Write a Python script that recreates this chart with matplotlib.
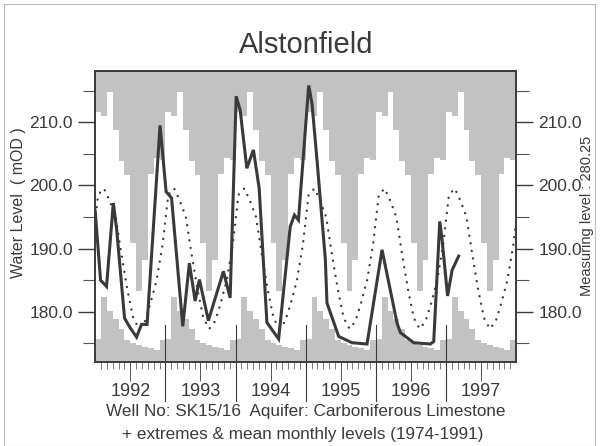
import matplotlib
matplotlib.use("Agg")
import matplotlib.pyplot as plt
import numpy as np

plt.rcParams['font.family'] = ['Liberation Sans', 'DejaVu Sans']

# monthly extremes and means 1974-1991 (Jan..Dec), mOD
month_max = [211.6, 211.0, 214.8, 208.8, 203.8, 201.6, 190.9, 183.3, 188.2, 201.8, 204.3, 204.0]
month_min = [175.7, 182.3, 180.2, 178.8, 177.2, 175.6, 175.0, 174.7, 174.4, 174.2, 174.0, 175.6]
month_mean = [198.5, 199.5, 197.5, 195.0, 189.0, 183.5, 179.0, 177.3, 178.5, 181.5, 185.0, 190.5]

years = [1992, 1993, 1994, 1995, 1996, 1997]

# observed levels (decimal year, mOD)
obs_t = [1992.00, 1992.076, 1992.161, 1992.258, 1992.306, 1992.418, 1992.496, 1992.589,
         1992.66, 1992.739, 1992.924, 1992.953, 1993.01, 1993.088, 1993.248, 1993.342,
         1993.424, 1993.485, 1993.613, 1993.827, 1993.923, 1994.009, 1994.066, 1994.161,
         1994.255, 1994.337, 1994.447, 1994.614, 1994.78, 1994.84, 1994.897, 1995.043,
         1995.09, 1995.161, 1995.28, 1995.303, 1995.47, 1995.66, 1995.874, 1996.088,
         1996.302, 1996.35, 1996.54, 1996.777, 1996.825, 1996.911, 1996.944, 1997.022,
         1997.087, 1997.18]
obs_v = [195.9, 185.0, 184.0, 197.2, 193.0, 179.0, 177.5, 176.0,
         178.0, 178.0, 209.5, 206.0, 199.0, 198.0, 177.7, 187.7,
         181.7, 185.1, 178.6, 186.4, 182.2, 214.1, 211.9, 202.7,
         205.6, 199.5, 178.3, 175.7, 193.5, 195.3, 194.5, 215.8,
         212.9, 204.0, 188.3, 181.4, 176.1, 175.1, 174.9, 189.8,
         178.2, 176.7, 175.1, 174.9, 175.3, 194.3, 191.4, 182.5,
         186.6, 188.8]

ylo, yhi = 172.1, 218.1
grey = '#c2c2c2'
ink = '#3a3a3a'

fig = plt.figure(figsize=(6.0, 4.46), dpi=100)
ax = fig.add_axes([0.1587, 0.189, 0.7016, 0.652])

# extremes envelope as monthly steps
edges = []
tops = []
bots = []
means_t = []
means_v = []
for y in years:
    for m in range(12):
        edges.append(y + m / 12)
        tops.append(month_max[m])
        bots.append(month_min[m])
        means_t.append(y + (m + 0.5) / 12)
        means_v.append(month_mean[m])
edges.append(years[-1] + 1)
tops.append(tops[-1])
bots.append(bots[-1])

ax.fill_between(edges, tops, yhi, step='post', color=grey, lw=0)
ax.fill_between(edges, ylo, bots, step='post', color=grey, lw=0)

# mean monthly levels, wrapped across year ends
ax.plot([years[0] - 0.5 / 12] + means_t + [years[-1] + 1 + 0.5 / 12],
        [month_mean[-1]] + means_v + [month_mean[0]],
        color=ink, lw=1.7, linestyle=(0, (0.05, 3.2)), dash_capstyle='round')

ax.plot(obs_t, obs_v, color=ink, lw=2.2, solid_joinstyle='miter')

ax.set_xlim(years[0], years[-1] + 1)
ax.set_ylim(ylo, yhi)

# y ticks both sides
ax.set_yticks([180, 190, 200, 210])
ax.set_yticklabels(['180.0', '190.0', '200.0', '210.0'])
ax.set_yticks([175, 185, 195, 205, 215], minor=True)
ax.tick_params(axis='y', which='major', direction='out', length=12, width=1.0,
               labelsize=12.5, colors=ink, left=True, right=True, labelright=True, pad=4)
ax.tick_params(axis='y', which='minor', direction='out', length=9, width=0.8,
               left=True, right=True, colors='#555555')

# x: month ticks and year labels at mid year
ax.set_xticks([y + 0.5 for y in years])
ax.set_xticklabels([str(y) for y in years])
ax.set_xticks([y + m / 12 for y in years for m in range(1, 12) if m != 6], minor=True)
ax.tick_params(axis='x', which='major', direction='out', length=14, width=0.6,
               labelsize=13, colors=ink, pad=1)
ax.tick_params(axis='x', which='minor', direction='out', length=5, width=0.6, colors='#666666')

for y in years[1:]:
    ax.axvline(y, ymin=-0.135, ymax=0.125, color=ink, lw=0.8, clip_on=False)

for s in ax.spines.values():
    s.set_color(ink)
    s.set_linewidth(1.4)

fig.text(0.031, 0.545, 'Water Level  ( mOD )', rotation=90, fontsize=11.5,
         color=ink, ha='center', va='center')
fig.text(0.979, 0.515, 'Measuring level : 280.25', rotation=90, fontsize=10.5,
         color=ink, ha='center', va='center')

fig.text(0.51, 0.899, 'Alstonfield', fontsize=21, color=ink, ha='center', va='center')
fig.text(0.51, 0.077, 'Well No: SK15/16  Aquifer: Carboniferous Limestone',
         fontsize=12.3, color=ink, ha='center', va='center')
fig.text(0.505, 0.025, '+ extremes & mean monthly levels (1974-1991)',
         fontsize=12.3, color=ink, ha='center', va='center')

# thin outer frame
fig.add_artist(plt.Rectangle((0.007, 0.0), 0.985, 0.99, transform=fig.transFigure,
                             fill=False, edgecolor='#bbbbbb', lw=0.8))

fig.savefig('out.png', dpi=100)
